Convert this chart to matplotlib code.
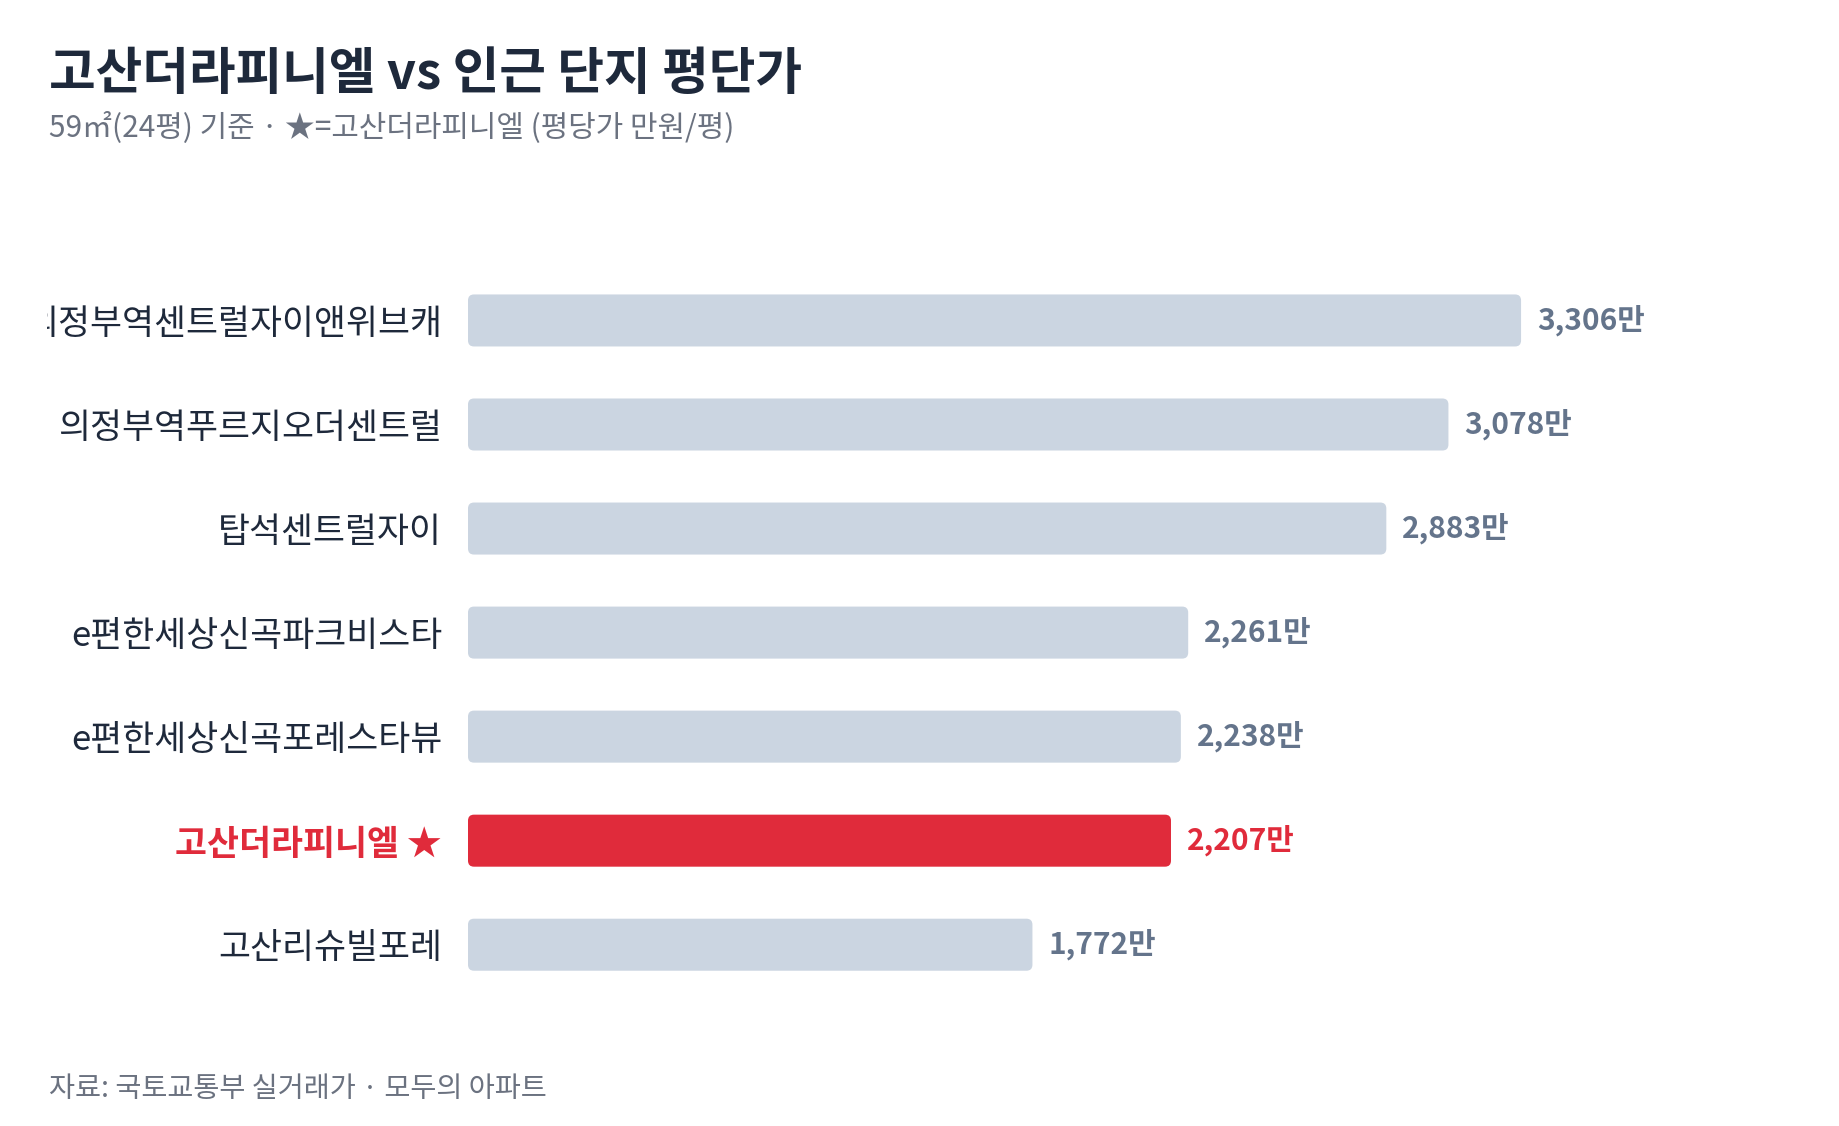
import numpy as np
import matplotlib
matplotlib.use('Agg')
import matplotlib.pyplot as plt
from matplotlib.patches import FancyBboxPatch
from matplotlib.transforms import Bbox

plt.rcParams['font.family'] = ['Noto Sans CJK KR', 'DejaVu Sans']

# Donnees (haut -> bas)
noms = ['의정부역센트럴자이앤위브캐', '의정부역푸르지오더센트럴', '탑석센트럴자이',
        'e편한세상신곡파크비스타', 'e편한세상신곡포레스타뷰', '고산더라피니엘 ★', '고산리슈빌포레']
prix = [3306, 3078, 2883, 2261, 2238, 2207, 1772]
cible = '고산더라피니엘 ★'

titre = '고산더라피니엘 vs 인근 단지 평단가'
sous_titre = '59㎡(24평) 기준 · ★=고산더라피니엘 (평당가 만원/평)'
source = '자료: 국토교통부 실거래가 · 모두의 아파트'

GRIS = '#cbd5e1'
ROUGE = '#e02b3b'
TEXTE = '#1e293b'
VALEUR = '#64748b'
SOUS = '#6b7280'

W, H = 1840, 1126
fig = plt.figure(figsize=(W / 100, H / 100), dpi=100)
fig.patch.set_facecolor('white')

ax = fig.add_axes([468 / W, 0.1148, 0.97 - 468 / W, 0.6468])
ax.set_xlim(0, 4134)
ax.set_ylim(len(noms) - 0.5, -0.5)

y = np.arange(len(noms))
couleurs = [ROUGE if n == cible else GRIS for n in noms]
barres = ax.barh(y, prix, height=0.5, color=couleurs)

# Coins arrondis
p0 = ax.transData.transform((0, 0))
p1 = ax.transData.transform((1, 1))
xpx = p1[0] - p0[0]
ypx = abs(p1[1] - p0[1])
rayon = 6 / xpx
for b, c in zip(barres, couleurs):
    b.set_visible(False)
    ax.add_patch(FancyBboxPatch((b.get_x(), b.get_y()), b.get_width(), b.get_height(),
                                boxstyle='round,pad=0,rounding_size=%f' % rayon,
                                mutation_aspect=xpx / ypx, facecolor=c,
                                edgecolor='none'))

# Etiquettes de valeur
for yi, v, n in zip(y, prix, noms):
    ax.annotate(f'{v:,}만', (v, yi), xytext=(11.5, 0), textcoords='offset points',
                va='center', ha='left', fontsize=21.5, fontweight='bold',
                color=ROUGE if n == cible else VALEUR)

ax.set_yticks(y)
ax.set_yticklabels(noms, fontsize=25)
ax.tick_params(axis='y', length=0, pad=18.7)
for lab, n in zip(ax.get_yticklabels(), noms):
    if n == cible:
        lab.set_color(ROUGE)
        lab.set_fontweight('bold')
    else:
        lab.set_color(TEXTE)
# premiere etiquette coupee a gauche comme dans l'original
ax.get_yticklabels()[0].set_clip_box(Bbox.from_extents(47, 0, W, H))
ax.get_yticklabels()[0].set_clip_on(True)

ax.xaxis.set_visible(False)
for s in ax.spines.values():
    s.set_visible(False)

fig.text(49 / W, 1 - 74 / H, titre, fontsize=36.5, fontweight='bold', color=TEXTE,
         va='center', ha='left')
fig.text(49 / W, 1 - 127 / H, sous_titre, fontsize=21.5, color=SOUS, va='center', ha='left')
fig.text(49 / W, 1 - 1089 / H, source, fontsize=20.4, color=SOUS, va='center', ha='left')

fig.savefig('out.png', dpi=100, facecolor='white')
